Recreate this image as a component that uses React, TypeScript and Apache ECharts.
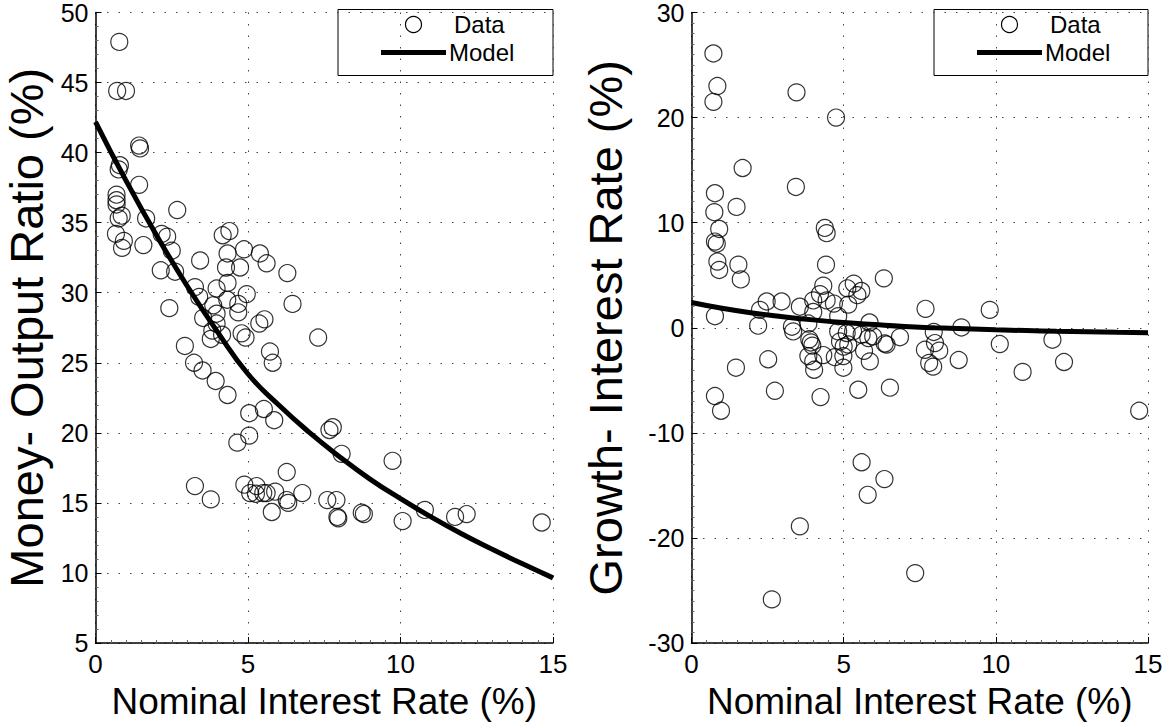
import React, { useEffect, useRef } from "react";
import * as echarts from "echarts";

// Left panel: money-output ratio data [nominal rate %, ratio %]
const moneyData: number[][] = [
  [0.78, 47.9], [0.71, 44.4], [1.0, 44.4], [1.43, 40.5], [1.46, 40.3], [0.8, 39.1], [0.76, 38.8],
  [1.43, 37.7], [0.69, 37.0], [0.69, 36.6], [0.69, 36.3], [0.76, 35.3], [0.86, 35.5], [2.68, 35.9],
  [1.66, 35.3], [0.67, 34.2], [0.93, 33.7], [0.87, 33.2], [1.57, 33.4], [2.17, 34.2], [2.35, 34.0],
  [2.5, 33.0], [4.17, 34.1], [4.39, 34.4], [4.33, 32.8], [4.87, 33.1], [5.39, 32.8], [3.43, 32.3],
  [5.61, 32.1], [6.29, 31.4], [2.14, 31.6], [2.61, 31.5], [4.28, 31.8], [4.74, 31.8], [4.33, 30.7],
  [3.26, 30.4], [3.97, 30.3], [4.96, 29.9], [3.4, 29.7], [4.32, 29.5], [4.68, 29.2], [2.42, 28.9],
  [3.86, 29.1], [4.68, 28.6], [3.97, 28.5], [3.53, 28.2], [5.54, 28.1], [5.37, 27.8], [3.97, 27.8],
  [3.83, 27.3], [4.15, 27.0], [3.78, 26.7], [4.79, 27.1], [4.92, 26.8], [7.3, 26.8], [6.46, 29.2],
  [2.93, 26.2], [5.72, 25.8], [5.81, 25.0], [3.23, 25.0], [3.51, 24.45], [3.94, 23.7], [4.33, 22.7],
  [5.04, 21.4], [5.52, 21.7], [5.86, 20.9], [5.04, 19.8], [4.65, 19.3], [7.67, 20.2], [7.78, 20.4],
  [6.27, 17.2], [3.26, 16.2], [3.78, 15.25], [4.88, 16.3], [5.28, 16.2], [5.07, 15.7], [5.26, 15.65],
  [5.5, 15.7], [5.61, 15.7], [5.89, 15.8], [6.27, 15.2], [6.32, 15.0], [5.78, 14.35], [6.78, 15.7],
  [8.07, 18.5], [9.74, 18.0], [7.6, 15.2], [7.9, 15.2], [7.93, 14.0], [7.96, 13.9], [8.73, 14.3],
  [8.8, 14.2], [10.07, 13.7], [10.8, 14.5], [11.79, 14.0], [12.17, 14.2], [14.63, 13.6],
];

// Left panel model curve
const moneyModelX: number[] = [0, 1, 2, 3, 4, 5, 6, 7, 8, 9, 10, 11, 12, 13, 14, 15];
const moneyModelY: number[] = [42.2, 38.0, 34.1, 30.5, 27.2, 24.2, 22.0, 20.05, 18.3, 16.7, 15.3, 14.0, 12.8, 11.7, 10.65, 9.65];

// Right panel: growth - interest rate data [nominal rate %, growth-interest %]
const growthData: number[][] = [
  [0.72, 26.1], [0.85, 23.0], [0.72, 21.5], [3.45, 22.4], [4.75, 20.0], [1.68, 15.2], [0.77, 12.8],
  [3.43, 13.4], [1.48, 11.5], [0.75, 11.0], [0.91, 9.4], [4.38, 9.5], [4.44, 9.0], [0.77, 8.2],
  [0.83, 8.0], [0.85, 6.3], [0.91, 5.5], [1.54, 6.0], [1.62, 4.6], [4.42, 6.0], [6.32, 4.7],
  [0.77, 1.1], [2.19, 0.2], [2.25, 1.7], [2.47, 2.5], [2.96, 2.5], [3.56, 2.0], [3.3, 0.1],
  [3.34, -0.35], [3.84, 0.4], [4.0, 2.6], [4.22, 3.2], [4.44, 2.6], [4.33, 4.0], [4.0, 1.5],
  [4.68, 2.3], [4.82, 1.1], [5.12, 3.75], [5.33, 4.2], [5.58, 3.5], [5.45, 3.1], [5.15, 2.2],
  [5.85, 0.5], [3.87, -1.1], [3.92, -1.4], [3.97, -1.7], [4.82, -0.35], [5.1, -0.5], [5.31, -0.35],
  [5.59, -0.66], [5.81, -0.98], [5.97, -0.82], [6.35, -1.5], [6.41, -1.6], [6.85, -0.9], [4.88, -1.3],
  [5.0, -1.8], [5.15, -1.6], [5.67, -2.2], [3.84, -2.7], [4.0, -3.2], [4.33, -2.6], [4.71, -2.8],
  [4.99, -2.7], [4.03, -4.0], [4.99, -3.8], [5.86, -3.2], [2.52, -3.0], [1.46, -3.8], [7.69, 1.8],
  [7.67, -2.1], [7.81, -3.35], [7.94, -3.7], [0.77, -6.5], [0.97, -7.9], [2.74, -6.0], [4.24, -6.6],
  [5.48, -5.9], [6.52, -5.7], [9.8, 1.7], [7.96, -0.4], [8.87, 0.03], [8.0, -1.46], [8.14, -2.18],
  [8.78, -3.07], [10.13, -1.55], [11.86, -1.14], [12.24, -3.26], [10.88, -4.2], [14.71, -7.9],
  [5.59, -12.8], [6.34, -14.4], [5.79, -15.9], [3.56, -18.9], [7.35, -23.35], [2.64, -25.85],
];

const growthModelX: number[] = [0, 1, 2, 3, 4, 5, 6, 7, 8, 9, 10, 11, 12, 13, 14, 15];
const growthModelY: number[] = [2.4, 1.85, 1.4, 1.05, 0.75, 0.5, 0.3, 0.12, 0.0, -0.1, -0.2, -0.27, -0.33, -0.38, -0.43, -0.47];

const xTicks = { min: 0, max: 15, interval: 5 };
const leftYTicks = { min: 5, max: 50, interval: 5 };
const rightYTicks = { min: -30, max: 30, interval: 10 };

const xAxisName = "Nominal Interest Rate (%)";
const leftYName = "Money- Output Ratio (%)";
const rightYName = "Growth- Interest Rate (%)";
const legendLabels = ["Data", "Model"];

const FONT = "Liberation Sans, Arial, Helvetica, sans-serif";

function zip(xs: number[], ys: number[]) {
  return xs.map((x, i) => [x, ys[i]]);
}

const gridLine = { show: true, lineStyle: { color: "#444", width: 1, type: [1.5, 10] as any } };

function xAxisCfg(gridIndex: number) {
  return {
    type: "value",
    gridIndex,
    ...xTicks,
    name: xAxisName,
    nameLocation: "middle",
    nameGap: 40,
    nameTextStyle: { fontFamily: FONT, fontSize: 37, color: "#000" },
    axisLine: { show: true, onZero: false, lineStyle: { color: "#000", width: 1.5 } },
    axisTick: { show: true, inside: true, length: 6, lineStyle: { color: "#000" } },
    minorTick: { show: true, splitNumber: 10, length: 3, lineStyle: { color: "#666" } },
    axisLabel: { fontFamily: FONT, fontSize: 26, color: "#000", margin: 8 },
    splitLine: gridLine,
  };
}

function yAxisCfg(gridIndex: number, ticks: any, name: string, minorSplit: number, gap: number) {
  return {
    type: "value",
    gridIndex,
    ...ticks,
    name,
    nameLocation: "middle",
    nameGap: gap,
    nameTextStyle: { fontFamily: FONT, fontSize: 47, color: "#000" },
    axisLine: { show: true, onZero: false, lineStyle: { color: "#000", width: 1.5 } },
    axisTick: { show: true, inside: true, length: 6, lineStyle: { color: "#000" } },
    minorTick: { show: true, splitNumber: minorSplit, length: 3, lineStyle: { color: "#666" } },
    axisLabel: { fontFamily: FONT, fontSize: 25, lineHeight: 18, color: "#000", margin: 7 },
    splitLine: gridLine,
  };
}

function legendGraphic(x0: number, y0: number, w: number, h: number) {
  const lineX1 = x0 + 43;
  const lineX2 = x0 + 108;
  const midX = (lineX1 + lineX2) / 2;
  return {
    type: "group",
    children: [
      { type: "rect", shape: { x: x0, y: y0, width: w, height: h }, style: { fill: "#fff", stroke: "#000", lineWidth: 1 } },
      { type: "circle", shape: { cx: midX, cy: y0 + 15, r: 8 }, style: { fill: "none", stroke: "#000", lineWidth: 1.2 } },
      { type: "text", x: x0 + 116, y: y0 + 15, style: { text: legendLabels[0], font: `24px ${FONT}`, fill: "#000", verticalAlign: "middle", align: "left" } },
      { type: "line", shape: { x1: lineX1, y1: y0 + 43, x2: lineX2, y2: y0 + 43 }, style: { stroke: "#000", lineWidth: 5 } },
      { type: "text", x: x0 + 111, y: y0 + 43, style: { text: legendLabels[1], font: `24px ${FONT}`, fill: "#000", verticalAlign: "middle", align: "left" } },
    ],
  };
}

export default function App() {
  const ref = useRef<HTMLDivElement>(null);
  useEffect(() => {
    if (!ref.current) return;
    const chart = echarts.init(ref.current, undefined, { renderer: "svg" });
    const scatterStyle = { color: "rgba(0,0,0,0)", borderColor: "#000", borderWidth: 1.2 };
    chart.setOption({
      animation: false,
      backgroundColor: "#fff",
      grid: [
        { left: 95.5, top: 9.5, width: 457.5, height: 634 },
        { left: 691.5, top: 9.5, width: 456.5, height: 634 },
      ],
      xAxis: [xAxisCfg(0), xAxisCfg(1)],
      yAxis: [
        yAxisCfg(0, leftYTicks, leftYName, 5, 46),
        yAxisCfg(1, rightYTicks, rightYName, 10, 63),
      ],
      series: [
        {
          type: "scatter", name: legendLabels[0], xAxisIndex: 0, yAxisIndex: 0, data: moneyData,
          symbol: "circle", symbolSize: 17, itemStyle: scatterStyle, silent: true,
        },
        {
          type: "line", name: legendLabels[1], xAxisIndex: 0, yAxisIndex: 0, data: zip(moneyModelX, moneyModelY),
          smooth: true, showSymbol: false, lineStyle: { color: "#000", width: 5 }, silent: true,
        },
        {
          type: "scatter", name: legendLabels[0], xAxisIndex: 1, yAxisIndex: 1, data: growthData,
          symbol: "circle", symbolSize: 17, itemStyle: scatterStyle, silent: true,
        },
        {
          type: "line", name: legendLabels[1], xAxisIndex: 1, yAxisIndex: 1, data: zip(growthModelX, growthModelY),
          smooth: true, showSymbol: false, lineStyle: { color: "#000", width: 5 }, silent: true,
        },
      ],
      graphic: [legendGraphic(338, 9.5, 215, 66), legendGraphic(934, 9.5, 214, 66)],
    });
    return () => chart.dispose();
  }, []);
  return (
    <div
      ref={ref}
      style={{ position: "absolute", left: 0, top: 0, width: 1170, height: 725, background: "#fff" }}
    />
  );
}
